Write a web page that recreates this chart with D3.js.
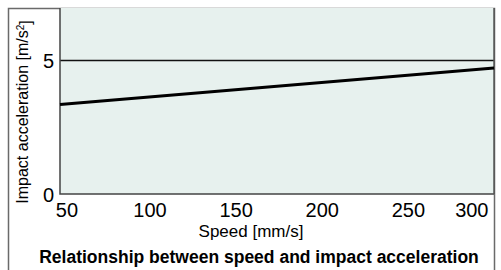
<!DOCTYPE html>
<html>
<head>
<meta charset="utf-8">
<script src="https://cdn.jsdelivr.net/npm/d3@7"></script>
<style>
  html, body { margin: 0; padding: 0; background: #fff; }
  svg { display: block; font-family: "Liberation Sans", Arial, sans-serif; }
</style>
</head>
<body>
<svg id="chart" width="501" height="270"></svg>
<script>
// Data
const speeds = [48, 300];              // mm/s (line spans the plot)
const accel = [3.35, 4.72];            // m/s^2
const xTicks = [50, 100, 150, 200, 250, 300];
const yTicks = [0, 5];
const xDomain = [48, 300];
const yDomain = [0, 7];
const title = "Relationship between speed and impact acceleration";
const xTitle = "Speed [mm/s]";

const svg = d3.select("#chart");
const m = { left: 60, top: 8, right: 494, bottom: 194 };

const x = d3.scaleLinear().domain(xDomain).range([m.left, m.right]);
const y = d3.scaleLinear().domain(yDomain).range([m.bottom, m.top - 1]);

// outer frame (top, left, right)
svg.append("path")
  .attr("d", `M8.5,275 L8.5,8.5 L494.5,8.5 L494.5,275`)
  .attr("fill", "none").attr("stroke", "#6a6a6a").attr("stroke-width", 1.5);

// plot background
svg.append("rect")
  .attr("x", m.left).attr("y", m.top)
  .attr("width", m.right - m.left).attr("height", m.bottom - m.top)
  .attr("fill", "#e7f1ee");

// gridline at 5
svg.append("line")
  .attr("x1", m.left).attr("x2", m.right)
  .attr("y1", y(5)).attr("y2", y(5))
  .attr("stroke", "#111").attr("stroke-width", 1.5);

// plot borders (left and bottom)
svg.append("path")
  .attr("d", `M${m.left},${m.top} L${m.left},${m.bottom} L${m.right},${m.bottom}`)
  .attr("fill", "none").attr("stroke", "#444").attr("stroke-width", 1.5);
svg.append("line")
  .attr("x1", m.right).attr("x2", m.right).attr("y1", m.top).attr("y2", m.bottom)
  .attr("stroke", "#555").attr("stroke-width", 1.5);

// data line
const line = d3.line().x((d, i) => x(speeds[i])).y(d => y(d));
svg.append("path")
  .datum(accel)
  .attr("d", line)
  .attr("fill", "none").attr("stroke", "#000").attr("stroke-width", 3);

// x axis labels
const xAxis = d3.axisBottom(x).tickValues(xTicks).tickSize(0).tickPadding(0).tickFormat(d3.format("d"));
const gx = svg.append("g").attr("transform", `translate(0,${m.bottom})`).call(xAxis);
gx.select(".domain").remove();
gx.selectAll("text")
  .attr("y", 23).attr("dy", 0)
  .attr("fill", "#000")
  .style("font-size", "20px")
  .style("font-family", "Liberation Sans, Arial, sans-serif");
gx.selectAll("text").filter(d => d === xTicks[0]).attr("x", 3);
gx.selectAll("text").filter(d => d === xTicks[xTicks.length - 1])
  .attr("text-anchor", "end").attr("x", -6);

// y axis labels
const yAxis = d3.axisLeft(y).tickValues(yTicks).tickSize(0).tickPadding(6).tickFormat(d3.format("d"));
const gy = svg.append("g").attr("transform", `translate(${m.left},0)`).call(yAxis);
gy.select(".domain").remove();
gy.selectAll("text")
  .attr("fill", "#000")
  .attr("dy", "0.36em")
  .style("font-size", "20px")
  .style("font-family", "Liberation Sans, Arial, sans-serif");

// y axis title
const yt = svg.append("text")
  .attr("transform", "translate(28,112) rotate(-90)")
  .attr("text-anchor", "middle")
  .style("font-size", "16px");
yt.append("tspan").text("Impact acceleration [m/s");
yt.append("tspan").attr("dy", "-0.45em").style("font-size", "10px").text("2");
yt.append("tspan").attr("dy", "0.45em").text("]");

// x axis title
svg.append("text")
  .attr("x", 251).attr("y", 237)
  .attr("text-anchor", "middle")
  .style("font-size", "17px")
  .text(xTitle);

// chart title
svg.append("text")
  .attr("x", 259).attr("y", 263)
  .attr("text-anchor", "middle")
  .style("font-size", "17.5px").style("font-weight", "bold")
  .text(title);
</script>
</body>
</html>
